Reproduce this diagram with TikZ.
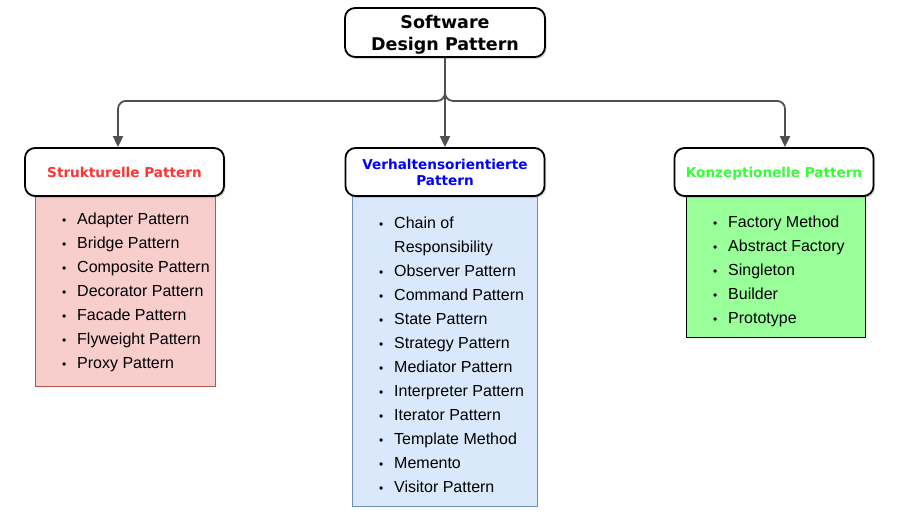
\documentclass[tikz,border=0pt]{standalone}
\usepackage{fontspec}
\setmainfont{Liberation Sans}
\newfontfamily\headfont{DejaVu Sans}
\usetikzlibrary{arrows.meta,shadows}

\definecolor{linkgray}{HTML}{505050}
\definecolor{struktfill}{HTML}{F8CECC}
\definecolor{struktline}{HTML}{B85450}
\definecolor{struktred}{HTML}{FF3333}
\definecolor{verhfill}{HTML}{DAE8FC}
\definecolor{verhline}{HTML}{6C8EBF}
\definecolor{verhblue}{HTML}{0000FF}
\definecolor{konzfill}{HTML}{99FF99}
\definecolor{konzgreen}{HTML}{33FF33}

\newcommand\pbullet{\makebox[15pt][l]{\fontsize{12}{12}\selectfont\textbullet}}

\begin{document}
\begin{tikzpicture}[x=1pt, y=-1pt,
    head/.style={draw, line width=1.8pt, rounded corners=10pt, fill=white,
      drop shadow={opacity=0.3, shadow xshift=1.5pt, shadow yshift=-2pt},
      align=center, inner sep=0pt, text depth=0pt, minimum width=199pt, minimum height=48pt,
      font=\headfont\bfseries\fontsize{13.6}{16}\selectfont},
    listbox/.style={draw, line width=0.8pt, inner sep=0pt, anchor=north west},
    item/.style={anchor=base west, inner sep=0pt, font=\fontsize{16}{19}\selectfont},
    link/.style={draw=linkgray, line width=1.8pt, rounded corners=8pt,
      -{Triangle[length=11pt, width=10pt]}}]
      % Define canvas
      \path[use as bounding box, fill=white] (0,0) rectangle (900,520);

      % Draw the list boxes
      \node[listbox, fill=struktfill, draw=struktline, minimum width=180pt, minimum height=190pt] (struktlist) at (35,196) {};
      \node[listbox, fill=verhfill, draw=verhline, minimum width=185pt, minimum height=310pt] (verhlist) at (352,196) {};
      \node[listbox, fill=konzfill, draw=black, minimum width=179pt, minimum height=141pt] (konzlist) at (686,196) {};

      % Draw the title and the three headers
      \node[head, minimum width=200pt, minimum height=49pt,
        font=\headfont\bfseries\fontsize{17.5}{22}\selectfont] (title) at (445,32.5) {Software\\Design Pattern};
      \node[head, text=struktred] (strukt) at (124.5,172) {Strukturelle Pattern};
      \node[head, text=verhblue] (verhalt) at (445,172) {Verhaltensorientierte\\Pattern};
      \node[head, text=konzgreen] (konzept) at (774,172) {Konzeptionelle Pattern};

      % Draw branches to the headers
      \draw[link] (title.south) -- ++(0,43) -| ([xshift=-6.5]strukt.north);
      \draw[link] (title.south) -- ++(0,43) -| ([xshift=11]konzept.north);
      \draw[link] (title.south) -- (verhalt.north);

      % Left list
      \foreach \t [count=\i] in {Adapter Pattern, Bridge Pattern, Composite Pattern,
          Decorator Pattern, Facade Pattern, Flyweight Pattern, Proxy Pattern}
        \node[item] (s\i) at (62, 200+24*\i) {\pbullet\t};

      % Middle list
      \node[item] (v1) at (379,228) {\pbullet Chain of};
      \node[item] (v2) at (394,252) {Responsibility};
      \foreach \t [count=\i from 3] in {Observer Pattern, Command Pattern, State Pattern,
          Strategy Pattern, Mediator Pattern, Interpreter Pattern, Iterator Pattern,
          Template Method, Memento, Visitor Pattern}
        \node[item] (v\i) at (379, 204+24*\i) {\pbullet\t};

      % Right list
      \foreach \t [count=\i] in {Factory Method, Abstract Factory, Singleton, Builder, Prototype}
        \node[item] (k\i) at (713, 203+24*\i) {\pbullet\t};
\end{tikzpicture}
\end{document}
